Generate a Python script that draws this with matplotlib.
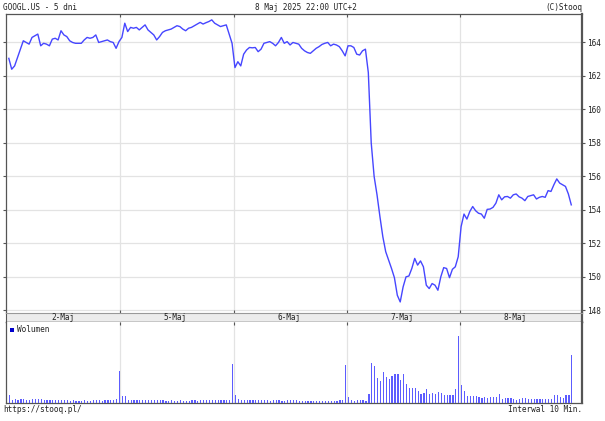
import numpy as np
import matplotlib
matplotlib.use('Agg')
import matplotlib.pyplot as plt
from matplotlib.patches import Rectangle

# GOOGL.US, 5 days, 10 min bars (39 per day)
days = ['2-Maj', '5-Maj', '6-Maj', '7-Maj', '8-Maj']

close_0502 = [163.05, 162.4, 162.6, 163.1, 163.6, 164.1, 164.0, 163.9, 164.3, 164.4,
              164.5, 163.8, 163.95, 163.9, 163.8, 164.2, 164.25, 164.15, 164.7, 164.45,
              164.35, 164.1, 164.0, 163.95, 163.95, 163.95, 164.15, 164.3, 164.25, 164.3,
              164.45, 164.0, 164.05, 164.1, 164.15, 164.05, 164.0, 163.65, 164.05]
close_0505 = [164.3, 165.15, 164.65, 164.9, 164.85, 164.9, 164.75, 164.9, 165.05, 164.75,
              164.6, 164.45, 164.15, 164.35, 164.6, 164.7, 164.75, 164.8, 164.9, 165.0,
              164.95, 164.8, 164.7, 164.85, 164.9, 165.0, 165.1, 165.2, 165.1, 165.18,
              165.25, 165.35, 165.15, 165.05, 164.95, 165.0, 165.05, 164.5, 163.95]
close_0506 = [162.5, 162.85, 162.6, 163.3, 163.55, 163.7, 163.68, 163.7, 163.45, 163.6,
              163.95, 164.0, 164.05, 163.95, 163.8, 164.0, 164.3, 163.95, 164.05, 163.85,
              164.0, 163.95, 163.9, 163.65, 163.5, 163.4, 163.35, 163.5, 163.65, 163.75,
              163.88, 163.95, 164.0, 163.8, 163.9, 163.85, 163.75, 163.5, 163.2]
close_0507 = [163.8, 163.8, 163.7, 163.3, 163.25, 163.5, 163.6, 162.2, 158.0, 156.0,
              154.9, 153.6, 152.4, 151.5, 151.0, 150.5, 149.95, 148.9, 148.5, 149.4,
              150.0, 150.05, 150.5, 151.1, 150.7, 150.95, 150.6, 149.5, 149.3, 149.6,
              149.5, 149.2, 150.0, 150.55, 150.5, 149.95, 150.45, 150.6, 151.2]
close_0508 = [153.0, 153.75, 153.45, 153.9, 154.2, 153.95, 153.8, 153.75, 153.5, 154.03,
              154.05, 154.15, 154.4, 154.9, 154.6, 154.78, 154.8, 154.7, 154.9, 154.95,
              154.78, 154.7, 154.55, 154.8, 154.85, 154.9, 154.65, 154.75, 154.8, 154.75,
              155.15, 155.1, 155.5, 155.85, 155.6, 155.5, 155.4, 154.95, 154.3]

# volume, thousands of shares
vol_0502 = [770, 330, 400, 330, 400, 430, 330, 330, 370, 400, 400, 370, 330, 300, 330, 270,
            300, 270, 270, 270, 270, 230, 270, 230, 200, 200, 270, 230, 230, 270, 270, 270,
            230, 300, 300, 300, 270, 370, 3170]
vol_0505 = [670, 670, 330, 300, 300, 300, 300, 300, 300, 300, 300, 270, 270, 270, 270, 230,
            230, 270, 230, 230, 270, 230, 230, 230, 270, 270, 230, 270, 270, 270, 270, 300,
            270, 270, 270, 270, 270, 330, 3900]
vol_0506 = [770, 370, 300, 300, 270, 300, 300, 300, 300, 270, 300, 270, 230, 270, 270, 270,
            230, 230, 300, 270, 270, 270, 230, 200, 200, 170, 200, 170, 200, 200, 170, 230,
            200, 230, 200, 230, 270, 300, 3830]
vol_0507 = [600, 300, 250, 300, 300, 300, 200, 870, 4000, 3670, 2530, 2170, 3100, 2600,
            2370, 2670, 2930, 2870, 2270, 2930, 1870, 1500, 1470, 1500, 1200, 930, 1000,
            1430, 930, 1000, 930, 1100, 1030, 770, 770, 830, 830, 1370, 6670]
vol_0508 = [1770, 1170, 670, 670, 670, 670, 570, 500, 570, 530, 630, 630, 600, 870, 400,
            470, 500, 530, 400, 330, 430, 470, 470, 430, 370, 400, 370, 400, 430, 430, 430,
            400, 770, 830, 600, 530, 770, 770, 4770]

yticks = [148, 150, 152, 154, 156, 158, 160, 162, 164]

close = np.array(close_0502 + close_0505 + close_0506 + close_0507 + close_0508)
volume = np.array(vol_0502 + vol_0505 + vol_0506 + vol_0507 + vol_0508)
x = np.arange(len(close))
per_day = len(close_0502)

W, H = 605, 421
FONT = 'DejaVu Sans Mono'
FS = 5.6
DARK = '#555555'
GRID = '#e3e3e3'


def rect(l, t, r, b):
    return [l / W, 1 - b / H, (r - l) / W, (b - t) / H]


xlim = (-0.97, 197.7)
bounds = [per_day * d - 0.5 for d in range(1, len(days))]

fig = plt.figure(figsize=(W / 100, H / 100), dpi=100)

# price panel
ax = fig.add_axes(rect(6, 14, 582, 313))
ax.plot(x, close, color='#4646ff', linewidth=1.0, zorder=3)
ax.set_xlim(*xlim)
ax.set_ylim(147.84, 165.70)
ax.set_yticks(yticks)
ax.set_yticklabels([str(t) for t in yticks], fontsize=FS, family=FONT, color='#222222')
ax.yaxis.grid(True, color=GRID, linewidth=0.9)
for b in bounds:
    ax.axvline(b, color=GRID, linewidth=0.9, zorder=1)
ax.set_xticks(bounds)
ax.tick_params(axis='x', top=True, bottom=False, labelbottom=False, direction='in',
               length=2, color=DARK)
ax.tick_params(axis='y', left=True, right=True, labelleft=False, labelright=True,
               direction='out', length=2.5, pad=1, color=DARK)
for s in ['left', 'top']:
    ax.spines[s].set_color(DARK)
    ax.spines[s].set_linewidth(0.9)
ax.spines['right'].set_color(DARK)
ax.spines['right'].set_linewidth(1.6)
ax.spines['bottom'].set_visible(False)

# date strip
ax_d = fig.add_axes(rect(6, 313, 582, 322))
ax_d.set_facecolor('#ececec')
ax_d.set_xlim(*xlim)
ax_d.set_ylim(0, 1)
ax_d.set_yticks([])
ax_d.set_xticks(bounds)
ax_d.tick_params(axis='x', bottom=True, top=True, labelbottom=False, direction='out',
                 length=2.5, color=DARK)
for i, d in enumerate(days):
    ax_d.text(per_day * i + 18.5, 0.45, d, ha='center', va='center',
              fontsize=FS, family=FONT, color='#222222')
ax_d.spines['top'].set_color('#999999')
ax_d.spines['top'].set_linewidth(0.8)
ax_d.spines['bottom'].set_color('#333333')
ax_d.spines['bottom'].set_linewidth(1.0)
ax_d.spines['left'].set_color(DARK)
ax_d.spines['right'].set_color(DARK)
ax_d.spines['right'].set_linewidth(1.6)

# volume panel
ax_v = fig.add_axes(rect(6, 322, 582, 403))
ax_v.bar(x + 0.2, volume, width=0.42, color='#5c5cff', linewidth=0, zorder=3,
         antialiased=False)
ax_v.set_xlim(*xlim)
ax_v.set_ylim(0, 8100)
ax_v.set_yticks([])
for b in bounds:
    ax_v.axvline(b, color=GRID, linewidth=0.9, zorder=1)
ax_v.set_xticks(bounds)
ax_v.tick_params(axis='x', top=True, bottom=False, labelbottom=False, direction='in',
                 length=2, color=DARK)
ax_v.spines['top'].set_visible(False)
ax_v.spines['left'].set_color(DARK)
ax_v.spines['left'].set_linewidth(0.9)
ax_v.spines['bottom'].set_color(DARK)
ax_v.spines['bottom'].set_linewidth(0.9)
ax_v.spines['right'].set_color(DARK)
ax_v.spines['right'].set_linewidth(1.6)
ax_v.add_patch(Rectangle((10 / W, 1 - 332 / H), 4 / W, 4 / H, transform=fig.transFigure,
                         facecolor='#0000cc', edgecolor='none'))
fig.text(17 / W, 1 - 330 / H, 'Wolumen', ha='left', va='center',
         fontsize=FS, family=FONT, color='#222222')

# header / footer
fig.text(3 / W, 1 - 7 / H, 'GOOGL.US - 5 dni', ha='left', va='center',
         fontsize=FS, family=FONT, color='#222222')
fig.text(306 / W, 1 - 7 / H, '8 Maj 2025 22:00 UTC+2', ha='center', va='center',
         fontsize=FS, family=FONT, color='#222222')
fig.text(582 / W, 1 - 7 / H, '(C)Stooq', ha='right', va='center',
         fontsize=FS, family=FONT, color='#222222')
fig.text(3 / W, 1 - 410 / H, 'https://stooq.pl/', ha='left', va='center',
         fontsize=FS, family=FONT, color='#222222')
fig.text(582 / W, 1 - 410 / H, 'Interwal 10 Min.', ha='right', va='center',
         fontsize=FS, family=FONT, color='#222222')

fig.savefig('out.png', dpi=100)
